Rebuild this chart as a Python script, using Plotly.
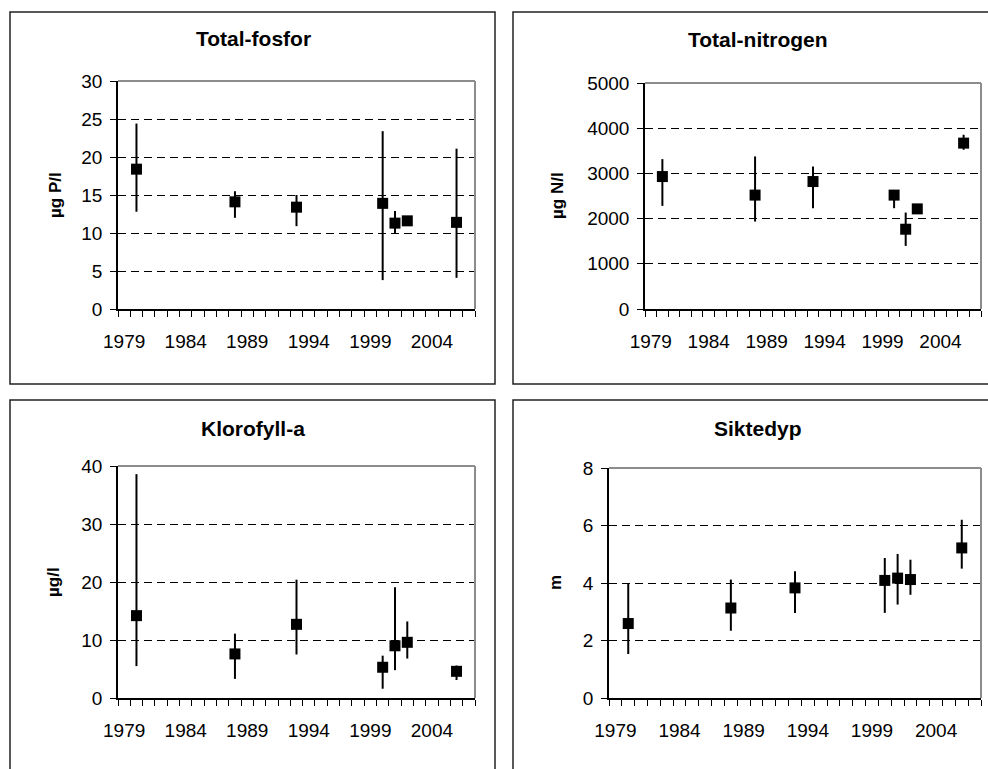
import plotly.graph_objects as go

years = [1980, 1988, 1993, 2000, 2001, 2002, 2006]

# Total-fosfor (µg P/l)
tp_mean = [18.4, 14.1, 13.4, 13.9, 11.3, 11.6, 11.4]
tp_max = [24.4, 15.5, 15.0, 23.4, 12.9, 11.8, 21.1]
tp_min = [12.8, 12.0, 10.9, 3.8, 10.0, 11.4, 4.1]

# Total-nitrogen (µg N/l)
tn_mean = [2930, 2520, 2820, 2520, 1765, 2215, 3670]
tn_max = [3316, 3375, 3154, 2570, 2134, 2260, 3855]
tn_min = [2282, 1935, 2230, 2230, 1396, 2180, 3523]

# Klorofyll-a (µg/l)
chl_mean = [14.2, 7.6, 12.7, 5.3, 9.0, 9.6, 4.6]
chl_max = [38.6, 11.1, 20.4, 7.3, 19.1, 13.2, 5.6]
chl_min = [5.5, 3.3, 7.5, 1.6, 4.8, 6.8, 3.1]

# Siktedyp (m)
sd_mean = [2.59, 3.13, 3.83, 4.09, 4.17, 4.12, 5.22]
sd_max = [3.97, 4.12, 4.41, 4.87, 5.01, 4.81, 6.20]
sd_min = [1.53, 2.34, 2.96, 2.96, 3.25, 3.59, 4.50]

titles = ["Total-fosfor", "Total-nitrogen", "Klorofyll-a", "Siktedyp"]
ytitles = ["µg P/l", "µg N/l", "µg/l", "m"]
yranges = [[0, 30], [0, 5000], [0, 40], [0, 8]]
ydticks = [5, 1000, 10, 2]
year_labels = [1979, 1984, 1989, 1994, 1999, 2004]

W, H = 988, 769
FONT = "Liberation Sans, Arial, sans-serif"

def px(x):
    return x / W

def py(y):
    return 1 - y / H

# plot area domains (pixel boxes)
areas = [
    (118, 475, 81, 309),
    (645, 981, 83, 309),
    (118, 475, 466, 698),
    (609, 981, 468, 698),
]
boxes = [
    (10, 495, 12, 384),
    (513, 1003, 12, 384),
    (10, 495, 400, 790),
    (513, 1003, 400, 790),
]
title_pos = [(253, 38), (758, 39), (253, 428), (758, 429)]
ytitle_pos = [(55, 195), (557, 196), (53, 582), (555, 583)]

data = [
    (tp_mean, tp_min, tp_max),
    (tn_mean, tn_min, tn_max),
    (chl_mean, chl_min, chl_max),
    (sd_mean, sd_min, sd_max),
]

fig = go.Figure()
layout = dict(
    width=W, height=H, margin=dict(l=0, r=0, t=0, b=0, pad=0, autoexpand=False),
    paper_bgcolor="white", plot_bgcolor="white", showlegend=False,
    font=dict(family=FONT, color="black"),
)
shapes = []
annotations = []

for i, (mean, lo, hi) in enumerate(data):
    n = i + 1
    xa = "x" if n == 1 else f"x{n}"
    ya = "y" if n == 1 else f"y{n}"
    fig.add_trace(go.Scatter(
        x=years, y=mean, mode="markers", xaxis=xa, yaxis=ya,
        marker=dict(symbol="square", size=11, color="black"),
        error_y=dict(type="data", symmetric=False,
                     array=[h - m for h, m in zip(hi, mean)],
                     arrayminus=[m - l for m, l in zip(mean, lo)],
                     color="black", thickness=2, width=0),
        cliponaxis=False,
    ))
    x0, x1, y0, y1 = areas[i]
    xkey = "xaxis" if n == 1 else f"xaxis{n}"
    ykey = "yaxis" if n == 1 else f"yaxis{n}"
    layout[xkey] = dict(
        domain=[px(x0), px(x1)], anchor=ya, range=[1978.5, 2007.5],
        tickmode="array", tickvals=year_labels, ticktext=[str(v) for v in year_labels],
        ticks="outside", ticklen=6, tickcolor="rgba(0,0,0,0)",
        ticklabelstandoff=8, automargin=False,
        tickfont=dict(size=19, family=FONT, color="black"),
        showgrid=False, zeroline=False,
        showline=True, linecolor="black", linewidth=1.5,
        minor=dict(tickmode="linear", tick0=1978.5, dtick=1, ticks="outside",
                   ticklen=6, tickcolor="black", tickwidth=1, showgrid=False),
    )
    layout[ykey] = dict(
        domain=[py(y1), py(y0)], anchor=xa, range=yranges[i],
        tickmode="linear", tick0=0, dtick=ydticks[i],
        ticks="outside", ticklen=6, tickcolor="black", tickwidth=1,
        ticklabelstandoff=4, automargin=False,
        tickfont=dict(size=19, family=FONT, color="black"),
        showgrid=True, gridcolor="black", griddash="8px,5px", gridwidth=1,
        zeroline=False, showline=True, linecolor="black", linewidth=1.5,
    )
    shapes.append(dict(type="line", xref="paper", yref="paper", layer="above",
                       x0=px(x0), x1=px(x1), y0=py(y0), y1=py(y0),
                       line=dict(color="#8c8c8c", width=2)))
    shapes.append(dict(type="line", xref="paper", yref="paper", layer="above",
                       x0=px(x1), x1=px(x1), y0=py(y0), y1=py(y1),
                       line=dict(color="#8c8c8c", width=2)))
    bx0, bx1, by0, by1 = boxes[i]
    shapes.append(dict(type="rect", xref="paper", yref="paper", layer="above",
                       x0=px(bx0), x1=px(bx1), y0=py(by1), y1=py(by0),
                       line=dict(color="#222222", width=1.5)))
    tx, ty = title_pos[i]
    annotations.append(dict(text=f"<b>{titles[i]}</b>", xref="paper", yref="paper",
                            x=px(tx), y=py(ty), xanchor="center", yanchor="middle",
                            showarrow=False, font=dict(size=21, family=FONT, color="black")))
    yx, yy = ytitle_pos[i]
    annotations.append(dict(text=f"<b>{ytitles[i]}</b>", xref="paper", yref="paper",
                            x=px(yx), y=py(yy), xanchor="center", yanchor="middle",
                            textangle=-90, showarrow=False,
                            font=dict(size=17, family=FONT, color="black")))

layout["shapes"] = shapes
layout["annotations"] = annotations
fig.update_layout(**layout)
fig.write_html("out.html", config={"displayModeBar": False},
               post_script="document.body.style.margin='0';")
